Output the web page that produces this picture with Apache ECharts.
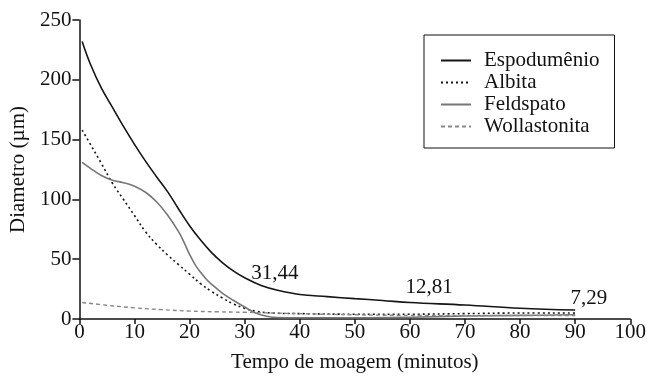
<!DOCTYPE html>
<html>
<head>
<meta charset="utf-8">
<script src="https://cdn.jsdelivr.net/npm/echarts@6/dist/echarts.min.js"></script>
<style>
  html, body { margin: 0; padding: 0; background: #fff; }
  #chart { width: 649px; height: 378px; }
</style>
</head>
<body>
<div id="chart"></div>
<script>
// tempo de moagem (min) x diametro (um)
const espodumenio = [
  [0.5, 232], [2, 213], [4, 193], [6, 177], [8, 161], [10, 146], [12, 132],
  [14, 119], [16, 106.5], [18, 92], [20, 78], [22, 66], [24, 55.5], [26, 47],
  [28, 40], [30, 34.5], [33, 28], [36, 24], [40, 20.5], [45, 18.7], [50, 17],
  [55, 15.5], [60, 13.8], [70, 11.7], [80, 9], [90, 7.5]
];
const albita = [
  [0.5, 158], [2, 146], [4, 130], [6, 113.5], [8, 100], [10, 86.5], [12, 73],
  [14, 62.5], [16, 53.5], [18, 45.5], [20, 37.5], [22, 29.5], [24, 23], [26, 17.5],
  [28, 12.5], [30, 9], [32, 6.5], [35, 5], [40, 4.5], [50, 4], [60, 4],
  [70, 4.5], [80, 5], [90, 5]
];
const feldspato = [
  [0.5, 131], [2, 126], [4, 120], [6, 116], [8, 114], [10, 111], [12, 106],
  [14, 98], [16, 87], [18, 73], [19, 64], [20, 54], [21, 45.5], [22, 39], [23, 33.5],
  [24, 29], [26, 21.5], [28, 15.5], [30, 10], [32, 5], [34, 2.3], [36, 1.2], [40, 1],
  [50, 1], [60, 1.5], [70, 2.5], [80, 3], [90, 3.5]
];
const wollastonita = [
  [0.5, 13.8], [5, 11.5], [10, 9.3], [15, 7.8], [20, 6.6], [25, 6], [30, 5.6],
  [35, 5], [40, 4.5], [50, 3.5], [60, 3], [70, 2.8], [80, 2.8], [90, 2.8]
];
const seriesNames = ['Espodumênio', 'Albita', 'Feldspato', 'Wollastonita'];
// rotulos de valores escritos no grafico
const annotTexts = ['31,44', '12,81', '7,29'];
const annotCoords = [[35.5, 38], [63.5, 26.4], [92.5, 17.3]];

const font = '"Liberation Serif", "DejaVu Serif", serif';
const chart = echarts.init(document.getElementById('chart'), null, { renderer: 'canvas' });

const axisCommon = {
  axisLine: { show: true, lineStyle: { color: '#111', width: 1.5 } },
  splitLine: { show: false },
  nameTextStyle: { fontFamily: font, fontSize: 21, color: '#111' }
};

chart.setOption({
  animation: false,
  backgroundColor: '#fff',
  textStyle: { fontFamily: font },
  grid: { left: 79, right: 17, top: 20, bottom: 51, containLabel: false },
  legend: {
    orient: 'vertical',
    left: 424,
    top: 35,
    padding: [15, 15, 11, 16],
    borderColor: '#111',
    borderWidth: 1,
    itemWidth: 30,
    itemHeight: 14,
    itemGap: 1,
    itemStyle: { opacity: 0 },
    textStyle: { fontFamily: font, fontSize: 21, lineHeight: 21, color: '#111', padding: [0, 0, 0, 8] },
    data: seriesNames
  },
  xAxis: Object.assign({}, axisCommon, {
    type: 'value',
    min: 0, max: 100, interval: 10,
    name: 'Tempo de moagem (minutos)',
    nameLocation: 'middle',
    nameGap: 33,
    axisTick: { show: true, length: 5, lineStyle: { color: '#111', width: 1.5 } },
    axisLabel: { fontFamily: font, fontSize: 21, color: '#111', margin: 3 }
  }),
  yAxis: Object.assign({}, axisCommon, {
    type: 'value',
    min: 0, max: 250, interval: 50,
    name: 'Diametro (µm)',
    nameLocation: 'middle',
    nameGap: 50,
    axisTick: { show: true, length: 7, lineStyle: { color: '#111', width: 1.5 } },
    axisLabel: { fontFamily: font, fontSize: 21, color: '#111', margin: 8 }
  }),
  series: [
    {
      name: seriesNames[0], type: 'line', data: espodumenio, smooth: 0.4,
      symbol: 'none', showSymbol: false,
      lineStyle: { color: '#151515', width: 1.6 },
      itemStyle: { color: '#151515' },
      markPoint: {
        symbol: 'circle', symbolSize: 0,
        label: {
          show: true, position: 'inside', fontFamily: font, fontSize: 21, color: '#111',
          formatter: p => p.name
        },
        data: annotTexts.map((t, i) => ({ name: t, coord: annotCoords[i] }))
      }
    },
    {
      name: seriesNames[1], type: 'line', data: albita, smooth: 0.4,
      symbol: 'none', showSymbol: false,
      lineStyle: { color: '#151515', width: 1.6, type: [2, 3] },
      itemStyle: { color: '#151515' }
    },
    {
      name: seriesNames[2], type: 'line', data: feldspato, smooth: 0.4,
      symbol: 'none', showSymbol: false,
      lineStyle: { color: '#777', width: 1.6 },
      itemStyle: { color: '#777' }
    },
    {
      name: seriesNames[3], type: 'line', data: wollastonita, smooth: 0.4,
      symbol: 'none', showSymbol: false,
      lineStyle: { color: '#888', width: 1.4, type: [4, 3] },
      itemStyle: { color: '#888' }
    }
  ]
});
</script>
</body>
</html>
